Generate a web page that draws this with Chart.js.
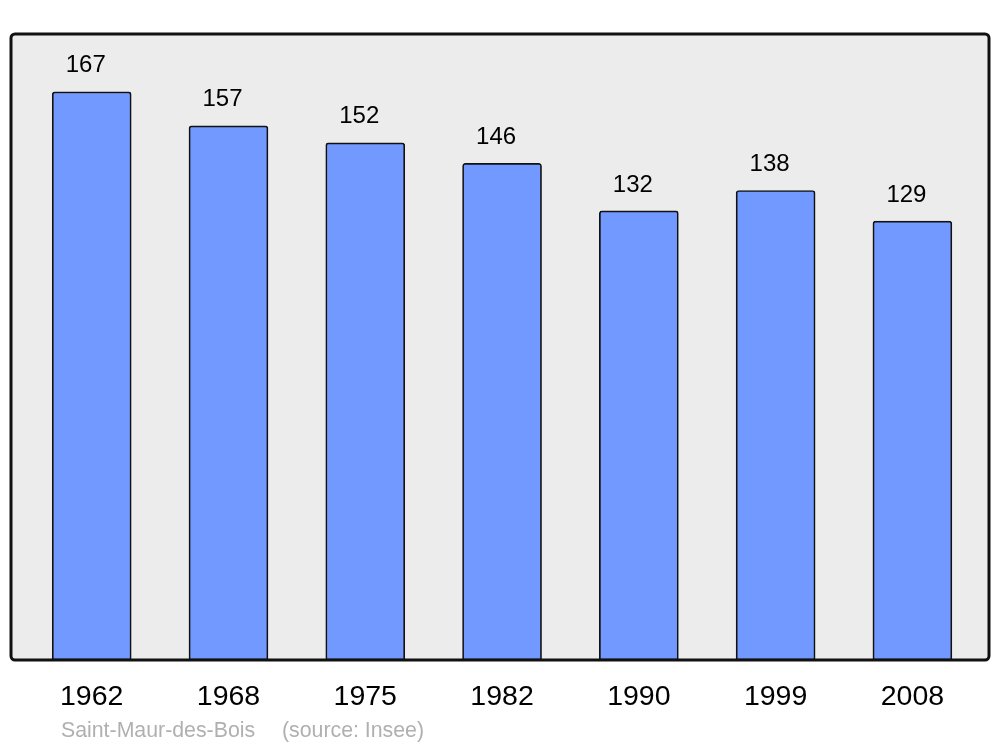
<!DOCTYPE html>
<html><head><meta charset="utf-8">
<script src="https://cdn.jsdelivr.net/npm/chart.js@4/dist/chart.umd.min.js"></script>
<style>html,body{margin:0;padding:0;background:#fff}#wrap{width:1000px;height:747px}</style>
</head><body><div id="wrap"><canvas id="c" width="1000" height="747"></canvas></div>
<script>
const years = ['1962','1968','1975','1982','1990','1999','2008'];
const population = [167,157,152,146,132,138,129];
const sourceName = 'Saint-Maur-des-Bois';
const sourceNote = '(source: Insee)';

const FONT = '"Liberation Sans", Arial, sans-serif';

const framePlugin = {
  id: 'frame',
  beforeDatasetsDraw(chart) {
    const {ctx, chartArea: a} = chart;
    ctx.save();
    ctx.beginPath();
    ctx.roundRect(a.left, a.top, a.right - a.left, a.bottom - a.top, 4);
    ctx.fillStyle = '#ececec';
    ctx.fill();
    ctx.restore();
  },
  afterDatasetsDraw(chart) {
    const {ctx, chartArea: a} = chart;
    ctx.save();
    ctx.beginPath();
    ctx.roundRect(a.left, a.top, a.right - a.left, a.bottom - a.top, 4);
    ctx.lineWidth = 3;
    ctx.strokeStyle = '#111';
    ctx.stroke();
    const meta = chart.getDatasetMeta(0);
    ctx.fillStyle = '#000';
    ctx.font = '24px ' + FONT;
    ctx.textAlign = 'center';
    ctx.textBaseline = 'middle';
    meta.data.forEach((bar, i) => {
      ctx.fillText(String(population[i]), bar.x - 6, bar.y - 26);
    });
    ctx.fillStyle = '#b0b0b0';
    ctx.font = '21.3px ' + FONT;
    ctx.textAlign = 'left';
    ctx.fillText(sourceName, 61, 731);
    ctx.fillText(sourceNote, 282, 731);
    ctx.restore();
  }
};

new Chart(document.getElementById('c'), {
  type: 'bar',
  data: {
    datasets: [{
      data: population.map((v, i) => ({x: i, y: v})),
      backgroundColor: '#7299ff',
      borderColor: '#111',
      borderWidth: 1.7,
      borderSkipped: false,
      borderRadius: {topLeft: 3, topRight: 3, bottomLeft: 0, bottomRight: 0},
      barThickness: 79
    }]
  },
  options: {
    responsive: false,
    animation: false,
    events: [],
    layout: {padding: {left: 11, right: 11, top: 34, bottom: 0}},
    plugins: {legend: {display: false}, tooltip: {enabled: false}, title: {display: false}},
    scales: {
      x: {
        type: 'linear',
        offset: false,
        min: -0.59, max: 6.56,
        grid: {display: false, drawTicks: false, offset: false},
        border: {display: false},
        afterFit(s) { s.height = 87; },
        ticks: {
          stepSize: 1,
          includeBounds: false,
          autoSkip: false,
          maxRotation: 0,
          padding: 20,
          color: '#000',
          font: {family: FONT, size: 28.5},
          callback: (v) => Number.isInteger(v) && years[v] !== undefined ? years[v] : ''
        }
      },
      y: {
        display: false,
        min: 0, max: 184
      }
    }
  },
  plugins: [framePlugin]
});
</script></body></html>
